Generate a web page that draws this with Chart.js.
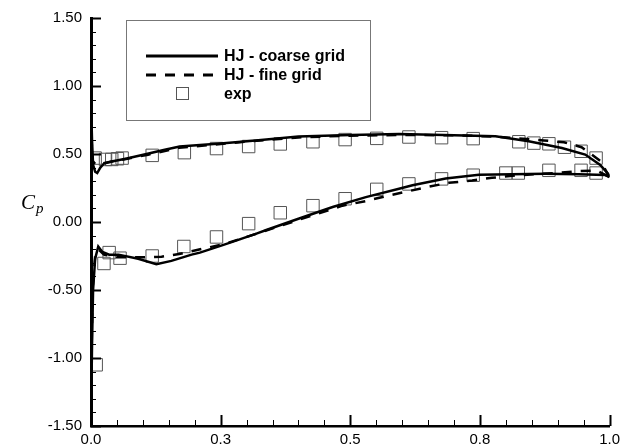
<!DOCTYPE html>
<html>
<head>
<meta charset="utf-8">
<script src="https://cdn.jsdelivr.net/npm/chart.js@4/dist/chart.umd.min.js"></script>
<style>
  body { margin: 0; background: #fff; }
  canvas { display: block; }
</style>
</head>
<body>
<canvas id="cp" width="625" height="446"></canvas>
<script>
// series names (legend)
const seriesNames = ['HJ - coarse grid', 'HJ - fine grid', 'exp'];

// HJ coarse grid, upper and lower branch, leading edge -> trailing edge
const coarseUpperX  = [0.0, 0.002, 0.004, 0.008, 0.012, 0.018, 0.025, 0.04, 0.069, 0.107, 0.14, 0.171, 0.21, 0.25, 0.312, 0.40, 0.50, 0.594, 0.68, 0.78, 0.844, 0.908, 0.953, 0.982, 0.998, 1.0];
const coarseUpperCp = [0.88, 0.60, 0.42, 0.37, 0.36, 0.40, 0.43, 0.445, 0.467, 0.50, 0.53, 0.555, 0.566, 0.578, 0.598, 0.628, 0.64, 0.647, 0.64, 0.63, 0.593, 0.544, 0.496, 0.42, 0.35, 0.33];
const coarseLowerX  = [0.0005, 0.001, 0.002, 0.004, 0.008, 0.014, 0.022, 0.035, 0.053, 0.091, 0.126, 0.155, 0.194, 0.21, 0.254, 0.274, 0.319, 0.338, 0.40, 0.466, 0.53, 0.594, 0.62, 0.684, 0.748, 0.812, 0.876, 0.94, 0.992, 1.0];
const coarseLowerCp = [-0.40, -1.25, -0.90, -0.50, -0.27, -0.18, -0.22, -0.24, -0.24, -0.27, -0.31, -0.286, -0.24, -0.225, -0.17, -0.144, -0.085, -0.059, 0.024, 0.11, 0.183, 0.244, 0.27, 0.32, 0.348, 0.352, 0.354, 0.352, 0.345, 0.33];

// HJ fine grid
const fineUpperX  = [0.0, 0.003, 0.01, 0.02, 0.04, 0.07, 0.11, 0.17, 0.24, 0.31, 0.40, 0.50, 0.60, 0.70, 0.78, 0.84, 0.873, 0.912, 0.946, 0.982, 1.0];
const fineUpperCp = [0.70, 0.45, 0.42, 0.43, 0.445, 0.465, 0.495, 0.545, 0.57, 0.595, 0.622, 0.635, 0.64, 0.638, 0.628, 0.61, 0.60, 0.586, 0.55, 0.45, 0.33];
const fineLowerX  = [0.001, 0.003, 0.008, 0.014, 0.025, 0.05, 0.10, 0.136, 0.17, 0.216, 0.254, 0.30, 0.40, 0.485, 0.53, 0.569, 0.613, 0.652, 0.69, 0.735, 0.773, 0.825, 0.895, 0.94, 0.975, 1.0];
const fineLowerCp = [-1.0, -0.5, -0.25, -0.20, -0.24, -0.26, -0.26, -0.255, -0.235, -0.196, -0.165, -0.11, 0.015, 0.12, 0.154, 0.19, 0.227, 0.26, 0.288, 0.305, 0.325, 0.344, 0.36, 0.374, 0.379, 0.33];

// experiment
const expUpperX  = [0.008, 0.028, 0.04, 0.051, 0.06, 0.118, 0.18, 0.242, 0.304, 0.365, 0.428, 0.49, 0.551, 0.613, 0.676, 0.737, 0.825, 0.854, 0.883, 0.913, 0.945, 0.974];
const expUpperCp = [0.47, 0.46, 0.46, 0.465, 0.47, 0.49, 0.51, 0.54, 0.555, 0.574, 0.59, 0.606, 0.615, 0.625, 0.62, 0.613, 0.59, 0.58, 0.575, 0.55, 0.52, 0.47];
const expLowerX  = [0.01, 0.025, 0.035, 0.056, 0.118, 0.179, 0.242, 0.304, 0.365, 0.428, 0.49, 0.551, 0.613, 0.676, 0.737, 0.80, 0.824, 0.883, 0.945, 0.974];
const expLowerCp = [-1.05, -0.305, -0.225, -0.266, -0.25, -0.18, -0.11, -0.012, 0.068, 0.12, 0.171, 0.24, 0.28, 0.317, 0.344, 0.36, 0.36, 0.38, 0.38, 0.36];

// axis ticks
const xTicks = [0, 0.25, 0.5, 0.75, 1];
const xTickLabels = ['0.0', '0.3', '0.5', '0.8', '1.0'];
const yTicks = [-1.5, -1, -0.5, 0, 0.5, 1, 1.5];
const yTickLabels = ['-1.50', '-1.00', '-0.50', '0.00', '0.50', '1.00', '1.50'];

const pts = (xs, ys) => xs.map((x, i) => ({ x, y: ys[i] }));

// closed loop: upper TE -> LE, then lower LE -> TE
const loop = (ux, uy, lx, ly) => pts(ux, uy).reverse().concat(pts(lx, ly));

const DASH = [10, 9];

// inward ticks, minor ticks, y title and the boxed legend
const decor = {
    id: 'decor',
    afterDraw(chart) {
        const ctx = chart.ctx;
        const xs = chart.scales.x, ys = chart.scales.y;
        const { left, bottom } = chart.chartArea;
        ctx.save();
        ctx.strokeStyle = '#000';
        // x ticks
        for (let i = 0; i <= 20; i++) {
            const v = i * 0.05;
            const px = Math.round(xs.getPixelForValue(v)) + 0.5;
            const major = i % 5 === 0;
            ctx.lineWidth = major ? 2 : 1;
            ctx.beginPath();
            ctx.moveTo(px, bottom);
            ctx.lineTo(px, bottom - (major ? 11 : 6));
            ctx.stroke();
        }
        // y ticks
        for (let i = 0; i <= 30; i++) {
            const v = -1.5 + i * 0.1;
            const py = Math.round(ys.getPixelForValue(v)) + 0.5;
            const major = i % 5 === 0;
            ctx.lineWidth = major ? 2 : 1;
            ctx.beginPath();
            ctx.moveTo(left, py);
            ctx.lineTo(left + (major ? 10 : 5), py);
            ctx.stroke();
        }
        // y title C_p
        ctx.fillStyle = '#000';
        ctx.textBaseline = 'alphabetic';
        ctx.textAlign = 'left';
        ctx.font = 'italic 21px "Liberation Serif", "DejaVu Serif", serif';
        ctx.fillText('C', 21, 209);
        ctx.font = 'italic 15px "Liberation Serif", "DejaVu Serif", serif';
        ctx.fillText('p', 36, 213);

        // legend box
        ctx.fillStyle = '#fff';
        ctx.fillRect(126, 20, 244, 100);
        ctx.strokeStyle = '#777';
        ctx.lineWidth = 1;
        ctx.strokeRect(126.5, 20.5, 244, 100);

        const rows = [56, 75, 94];
        const ds = chart.data.datasets;
        ctx.strokeStyle = '#000';
        ctx.lineWidth = 3;
        ctx.beginPath();
        ctx.moveTo(146, rows[0]);
        ctx.lineTo(218, rows[0]);
        ctx.stroke();
        ctx.setLineDash(DASH);
        ctx.beginPath();
        ctx.moveTo(146, rows[1]);
        ctx.lineTo(220, rows[1]);
        ctx.stroke();
        ctx.setLineDash([]);
        ctx.strokeStyle = '#555';
        ctx.lineWidth = 1;
        ctx.strokeRect(176.5, rows[2] - 6.5, 12, 12);

        ctx.fillStyle = '#000';
        ctx.font = 'bold 16px "Liberation Sans", Arial, sans-serif';
        ctx.textBaseline = 'middle';
        ds.forEach((d, i) => ctx.fillText(d.label, 224, rows[i] + 1));
        ctx.restore();
    }
};

new Chart(document.getElementById('cp'), {
    type: 'scatter',
    data: {
        datasets: [{
            label: seriesNames[0],
            data: loop(coarseUpperX, coarseUpperCp, coarseLowerX, coarseLowerCp),
            showLine: true,
            borderColor: '#000',
            borderWidth: 2.5,
            pointRadius: 0,
            tension: 0
        }, {
            label: seriesNames[1],
            data: loop(fineUpperX, fineUpperCp, fineLowerX, fineLowerCp),
            showLine: true,
            borderColor: '#000',
            borderWidth: 2.5,
            borderDash: DASH,
            pointRadius: 0,
            tension: 0
        }, {
            label: seriesNames[2],
            data: pts(expUpperX, expUpperCp).concat(pts(expLowerX, expLowerCp)),
            showLine: false,
            pointStyle: 'rect',
            pointRadius: 8.8,
            pointBorderWidth: 1,
            pointBorderColor: '#555',
            pointBackgroundColor: 'rgba(0,0,0,0)'
        }]
    },
    options: {
        responsive: false,
        animation: false,
        devicePixelRatio: 1,
        layout: { padding: { top: 16, right: 14, left: 0, bottom: 0 } },
        plugins: { legend: { display: false }, tooltip: { enabled: false } },
        scales: {
            x: {
                type: 'linear',
                min: 0,
                max: 1,
                afterBuildTicks: s => { s.ticks = xTicks.map(v => ({ value: v })); },
                afterFit: s => { s.height = 20; },
                ticks: {
                    autoSkip: false,
                    maxRotation: 0,
                    padding: 5,
                    color: '#000',
                    font: { family: '"Liberation Sans", Arial, sans-serif', size: 15 },
                    callback: (v, i) => xTickLabels[i]
                },
                grid: { display: false, drawTicks: false },
                border: { display: true, color: '#000', width: 2.5 }
            },
            y: {
                type: 'linear',
                min: -1.5,
                max: 1.5,
                afterBuildTicks: s => { s.ticks = yTicks.map(v => ({ value: v })); },
                afterFit: s => { s.width = 91; },
                ticks: {
                    autoSkip: false,
                    padding: 9,
                    color: '#000',
                    font: { family: '"Liberation Sans", Arial, sans-serif', size: 15 },
                    callback: (v, i) => yTickLabels[i]
                },
                grid: { display: false, drawTicks: false },
                border: { display: true, color: '#000', width: 3 }
            }
        }
    },
    plugins: [decor]
});
</script>
</body>
</html>
